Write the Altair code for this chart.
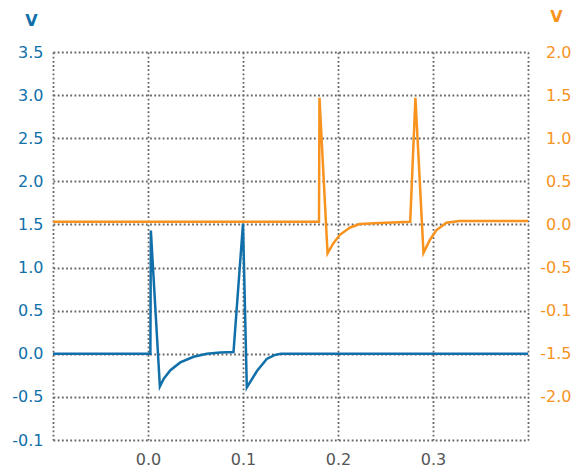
import altair as alt
import pandas as pd

# Blue series (left axis, V)
blue_x = [-0.1, 0.0025, 0.003, 0.0125, 0.0166, 0.0236, 0.034, 0.048, 0.062, 0.076, 0.09,
          0.1, 0.104, 0.1147, 0.125, 0.133, 0.14, 0.2, 0.3, 0.4]
blue_y = [0.0, 0.0, 1.43, -0.38, -0.29, -0.19, -0.10, -0.035, 0.0, 0.015, 0.02,
          1.51, -0.39, -0.2, -0.06, -0.015, 0.0, 0.0, 0.0, 0.0]

# Orange series (right axis, V)
orange_x = [-0.1, 0.18, 0.1805, 0.189, 0.195, 0.202, 0.2127, 0.223, 0.244, 0.276,
            0.2815, 0.29, 0.2967, 0.3037, 0.314, 0.328, 0.4]
orange_y = [0.03, 0.03, 1.47, -0.335, -0.22, -0.12, -0.035, 0.005, 0.016, 0.03,
            1.47, -0.33, -0.18, -0.065, 0.02, 0.04, 0.04]

x_ticks = [-0.1, 0.0, 0.1, 0.2, 0.3, 0.4]
left_ticks = [3.5, 3.0, 2.5, 2.0, 1.5, 1.0, 0.5, 0.0, -0.5, -1.0]
right_ticks = [2.0, 1.5, 1.0, 0.5, 0.0, -0.5, -1.0, -1.5, -2.0]

BLUE = "#1170aa"
ORANGE = "#f7931e"
FONT = "DejaVu Sans"

blue_df = pd.DataFrame({"t": blue_x, "v": blue_y})
orange_df = pd.DataFrame({"t": orange_x, "v": orange_y})

label_expr = ("datum.value == -1 ? '-0.1' : "
              "(datum.value < 0 ? '-' : '') + format(abs(datum.value), '.1f')")

grid_kw = dict(grid=True, gridColor="#666666", gridDash=[1.8, 2.4], gridWidth=1.8,
               domain=False, ticks=False)

x_enc = alt.X("t:Q", scale=alt.Scale(domain=[-0.1, 0.4], nice=False, zero=False),
              axis=alt.Axis(values=x_ticks, title=None, labelColor="#555555",
                            labelFont=FONT, labelFontSize=16, labelPadding=11,
                            labelExpr="(datum.value < -0.05 || datum.value > 0.35) ? '' : format(datum.value, '.1f')",
                            **grid_kw))

blue = alt.Chart(blue_df).mark_line(color=BLUE, strokeWidth=2.5).encode(
    x=x_enc,
    y=alt.Y("v:Q", scale=alt.Scale(domain=[-1.0, 3.5], nice=False, zero=False),
            axis=alt.Axis(values=left_ticks, title="V", titleAngle=0, titleColor=BLUE,
                          titleFont=FONT, titleFontSize=16, titleFontWeight="bold",
                          titleX=-22, titleY=-27, titleAlign="center",
                          titleBaseline="alphabetic",
                          labelColor=BLUE, labelFont=FONT, labelFontSize=16,
                          labelPadding=10, labelExpr=label_expr, **grid_kw)),
)

orange = alt.Chart(orange_df).mark_line(color=ORANGE, strokeWidth=2.5).encode(
    x=x_enc,
    y=alt.Y("v:Q", scale=alt.Scale(domain=[-2.5, 2.0], nice=False, zero=False),
            axis=alt.Axis(orient="right", values=right_ticks, title="V", titleAngle=0,
                          titleColor=ORANGE, titleFont=FONT, titleFontSize=16,
                          titleFontWeight="bold", titleX=28, titleY=-31,
                          titleAlign="center", titleBaseline="alphabetic",
                          labelColor=ORANGE, labelFont=FONT, labelFontSize=16,
                          labelAlign="right", labelPadding=43,
                          labelExpr=label_expr, grid=False, domain=False, ticks=False)),
)

chart = alt.layer(blue, orange).resolve_scale(y="independent").properties(
    width=475, height=388,
    autosize=alt.AutoSizeParams(type="none"),
    padding={"left": 45, "top": 44, "right": 44, "bottom": 34},
).configure_view(stroke=None)

chart.save("out.html", embed_options={"renderer": "svg", "actions": False})
